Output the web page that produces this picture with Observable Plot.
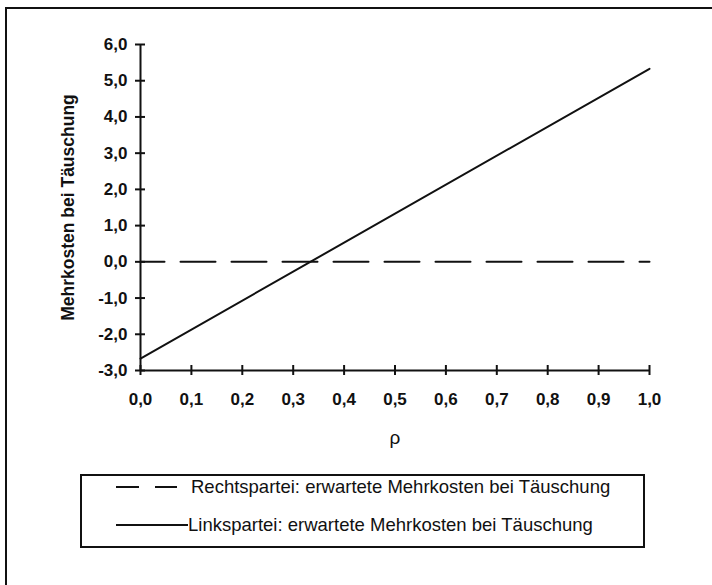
<!DOCTYPE html>
<html>
<head>
<meta charset="utf-8">
<script src="https://cdn.jsdelivr.net/npm/d3@7"></script>
<script src="https://cdn.jsdelivr.net/npm/@observablehq/plot@0.6"></script>
<style>
  html, body { margin: 0; padding: 0; background: #fff; }
  body { width: 712px; height: 585px; position: relative; overflow: hidden; font-family: "Liberation Sans", Arial, sans-serif; }
  #frame { position: absolute; left: 5px; top: 7px; width: 760px; height: 640px; border-left: 2px solid #111; border-top: 2px solid #111; }
  #chart { position: absolute; left: 0; top: 0; }
  #legend { position: absolute; left: 80px; top: 474px; width: 561px; height: 70px; border: 2px solid #111; }
  .row { position: absolute; left: 0; height: 24px; display: flex; align-items: center; font-size: 18.5px; color: #111; white-space: nowrap; }
  .row svg { display: block; }
</style>
</head>
<body>
<div id="frame"></div>
<div id="chart"></div>
<div id="legend"></div>
<script>
// Data
const rho = [0, 1];
const linkspartei = [-2.67, 5.33];
const rechtspartei = [0, 0];
const xTicks = [0, 0.1, 0.2, 0.3, 0.4, 0.5, 0.6, 0.7, 0.8, 0.9, 1.0];
const yTicks = [-3, -2, -1, 0, 1, 2, 3, 4, 5, 6];
const seriesNames = ["Rechtspartei: erwartete Mehrkosten bei Täuschung", "Linkspartei: erwartete Mehrkosten bei Täuschung"];
const yLabel = "Mehrkosten bei Täuschung";
const xLabel = "ρ";

const links = rho.map((r, i) => ({rho: r, v: linkspartei[i]}));
const rechts = rho.map((r, i) => ({rho: r, v: rechtspartei[i]}));
const fmt = d => d3.format(".1f")(d).replace(".", ",").replace("−", "-");

const plot = Plot.plot({
  width: 712,
  height: 460,
  marginLeft: 140,
  marginRight: 63,
  marginTop: 44,
  marginBottom: 90,
  style: {fontFamily: "'Liberation Sans', Arial, sans-serif", background: "transparent", overflow: "visible"},
  x: {domain: [0, 1]},
  y: {domain: [-3, 6]},
  marks: [
    Plot.axisY(yTicks, {tickSize: 0, tickPadding: 13, tickFormat: fmt, fontSize: 17, fontWeight: "bold", fill: "#111", label: null}),
    Plot.axisX(xTicks, {tickSize: 0, tickPadding: 22, tickFormat: fmt, fontSize: 17, fontWeight: "bold", fill: "#111", label: null}),
    Plot.ruleY(yTicks, {y: d => d, x1: 0, x2: 0, insetLeft: -5, insetRight: -5, stroke: "#111", strokeWidth: 2}),
    Plot.ruleX(xTicks, {x: d => d, y1: -3, y2: -3, insetTop: -5, insetBottom: -5, stroke: "#111", strokeWidth: 2}),
    Plot.ruleX([0], {y1: -3, y2: 6, stroke: "#111", strokeWidth: 2}),
    Plot.ruleY([-3], {x1: 0, x2: 1, stroke: "#111", strokeWidth: 2}),
    Plot.line(rechts, {x: "rho", y: "v", stroke: "#111", strokeWidth: 2, strokeDasharray: "35,16", strokeDashoffset: 11}),
    Plot.line(links, {x: "rho", y: "v", stroke: "#111", strokeWidth: 2}),
    Plot.text([yLabel], {frameAnchor: "left", textAnchor: "middle", dx: -72, rotate: -90, fontSize: 17.5, fontWeight: "bold", fill: "#111", text: d => d}),
    Plot.text([xLabel], {frameAnchor: "bottom", dy: 73, fontSize: 19, fill: "#111", text: d => d})
  ]
});
document.getElementById("chart").appendChild(plot);

// Legend
const legend = document.getElementById("legend");
const dashes = ["23,16", null];
const tops = [-1, 37];
seriesNames.forEach((name, i) => {
  const row = document.createElement("div");
  row.className = "row";
  row.style.top = tops[i] + "px";
  const sw = i === 0 ? 95 : 92;
  const svg = d3.create("svg").attr("width", sw + 14).attr("height", 24);
  svg.append("line").attr("x1", 34).attr("x2", sw + (i === 0 ? 0 : 14)).attr("y1", 12).attr("y2", 12)
    .attr("stroke", "#111").attr("stroke-width", 2).attr("stroke-dasharray", dashes[i]);
  row.appendChild(svg.node());
  const span = document.createElement("span");
  span.textContent = name;
  row.appendChild(span);
  legend.appendChild(row);
});
</script>
</body>
</html>
